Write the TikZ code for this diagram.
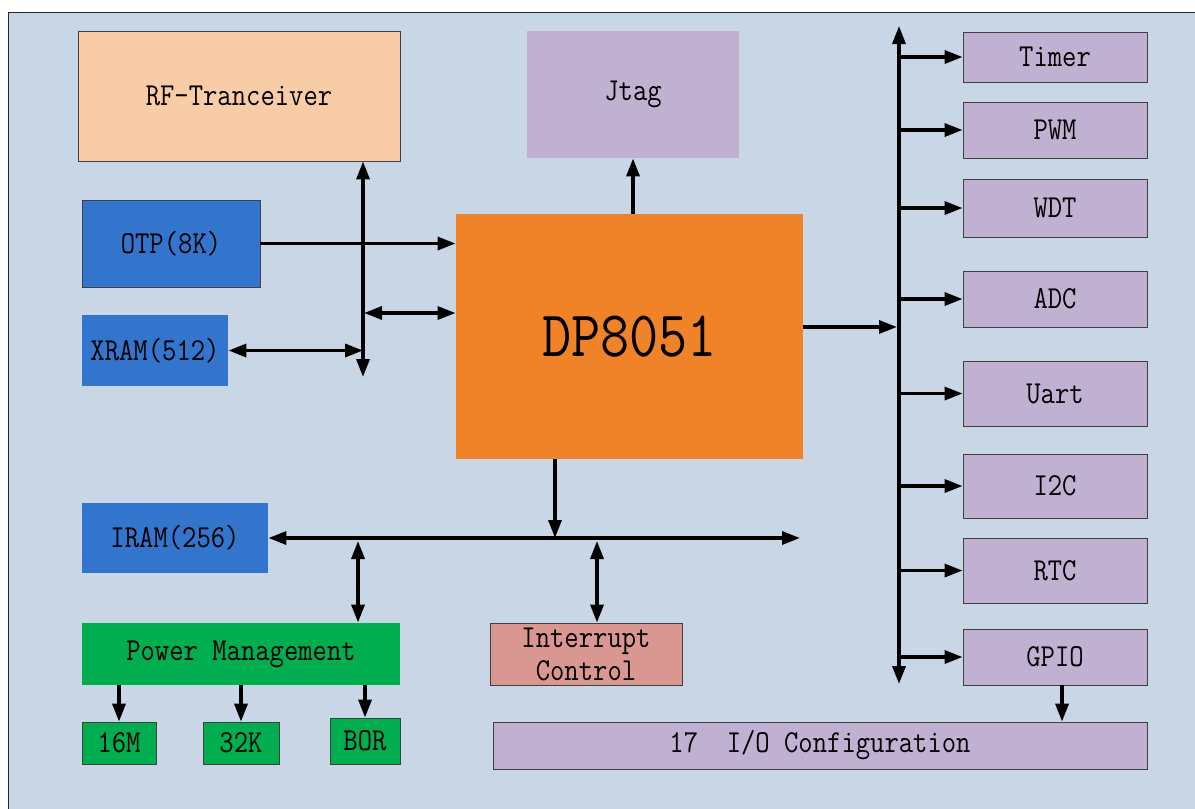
\documentclass[tikz,border=0pt]{standalone}
\usepackage{fontspec}
\newfontfamily\dfont[FakeStretch=0.87]{Latin Modern Mono}
\usetikzlibrary{arrows.meta}
\definecolor{bg}{HTML}{C9D6E5}
\definecolor{peach}{HTML}{F9CCA8}
\definecolor{mblue}{HTML}{3375CC}
\definecolor{lilac}{HTML}{C0B0D2}
\definecolor{orng}{HTML}{F08228}
\definecolor{grn}{HTML}{00AE50}
\definecolor{pink}{HTML}{DA9690}
\definecolor{bd}{HTML}{404040}
\tikzset{
  blk/.style={draw=bd, line width=0.9pt, inner sep=0pt, align=center,
    font=\dfont\fontsize{32}{34}\selectfont},
  nob/.style={blk, draw=none},
  arr/.style={line width=3.4pt, -{Triangle[length=18pt,width=13pt]}},
  dbl/.style={line width=3.4pt, {Triangle[length=18pt,width=13pt]}-{Triangle[length=18pt,width=13pt]}},
}
\begin{document}
\begin{tikzpicture}[x=1pt,y=-1pt]
\useasboundingbox (0,0) rectangle (1195,809);
\clip (0,0) rectangle (1195,809);
\fill[white] (0,0) rectangle (1195,809);
\draw[fill=bg, line width=1pt, draw=black!85] (8,12) rectangle (1220,830);

% left column
\node[blk, fill=peach, minimum width=322pt, minimum height=130pt] (rf) at (239,96) {RF-Tranceiver};
\node[blk, fill=mblue, minimum width=178pt, minimum height=87pt] (otp) at (171,243.5) {OTP(8K)};
\node[nob, fill=mblue, minimum width=146pt, minimum height=71pt] (xram) at (155,350.5) {XRAM(512)};
\node[nob, fill=mblue, minimum width=186pt, minimum height=70pt] (iram) at (175,538) {IRAM(256)};
\node[nob, fill=grn, minimum width=318pt, minimum height=62pt] (pm) at (241,654) {Power Management};
\node[blk, fill=grn, minimum width=74pt, minimum height=42pt] (m16) at (119,743) {16M};
\node[blk, fill=grn, minimum width=76pt, minimum height=42pt] (k32) at (241,743) {32K};
\node[blk, fill=grn, minimum width=70pt, minimum height=46pt] (bor) at (365,741) {BOR};

% center
\node[nob, fill=lilac, minimum width=212pt, minimum height=127pt] (jtag) at (633,94.5) {Jtag};
\node[nob, fill=orng, minimum width=347pt, minimum height=245pt, font=\dfont\fontsize{65}{70}\selectfont] (dp) at (629.5,336.5) {DP8051};
\node[blk, fill=pink, minimum width=192pt, minimum height=62pt, font=\dfont\fontsize{32}{34}\selectfont] (intc) at (586,654) {Interrupt\\[-1pt]Control};
\node[blk, fill=lilac, minimum width=654pt, minimum height=47pt] (io) at (820,745.5) {17\ \ I/O Configuration};

% right column
\node[blk, fill=lilac, minimum width=184pt, minimum height=50pt] (timer) at (1055,57) {Timer};
\node[blk, fill=lilac, minimum width=184pt, minimum height=56pt] (pwm) at (1055,130) {PWM};
\node[blk, fill=lilac, minimum width=184pt, minimum height=58pt] (wdt) at (1055,208) {WDT};
\node[blk, fill=lilac, minimum width=184pt, minimum height=56pt] (adc) at (1055,299) {ADC};
\node[blk, fill=lilac, minimum width=184pt, minimum height=65pt] (uart) at (1055,393.5) {Uart};
\node[blk, fill=lilac, minimum width=184pt, minimum height=64pt] (i2c) at (1055,486) {I2C};
\node[blk, fill=lilac, minimum width=184pt, minimum height=65pt] (rtc) at (1055,570.5) {RTC};
\node[blk, fill=lilac, minimum width=184pt, minimum height=56pt] (gpio) at (1055,657) {GPIO};

% coordinates
\coordinate (lbb) at (363,377);
\coordinate (lbm) at (364,313);
\coordinate (rbt) at (899,26);
\coordinate (rbb) at (899,684);
\coordinate (rbm) at (897,327);
\coordinate (gx) at (1062,0);
\coordinate (bb) at (555,538);
\coordinate (bbr) at (800,538);
\coordinate (px) at (358,541);
\coordinate (ix) at (597,541);

% left connectors
\draw[dbl] (lbb |- rf.south) -- (lbb);
\draw[arr] (otp.east) -- (otp.east -| dp.west);
\draw[dbl] (xram.east) -- (xram.east -| lbb);
\draw[dbl] (lbm) -- (lbm -| dp.west);
\draw[arr] (dp.north -| jtag.south) -- (jtag.south);

% right bus
\draw[dbl] (rbt) -- (rbb);
\draw[arr] (rbm -| dp.east) -- (rbm);
\foreach \n in {timer,pwm,wdt,adc,uart,i2c,rtc,gpio}
  \draw[arr] (\n.west -| rbt) -- (\n.west);
\draw[arr] (gpio.south -| gx) -- (io.north -| gx);

% bottom bus
\draw[arr] (dp.south -| bb) -- (bb);
\draw[dbl] (iram.east) -- (bbr);
\draw[dbl] (px) -- (px |- pm.north);
\draw[dbl] (ix) -- (ix |- intc.north);
\draw[arr] (pm.south -| m16.north) -- (m16.north);
\draw[arr] (pm.south -| k32.north) -- (k32.north);
\draw[arr] (pm.south -| bor.north) -- (bor.north);
\end{tikzpicture}
\end{document}
